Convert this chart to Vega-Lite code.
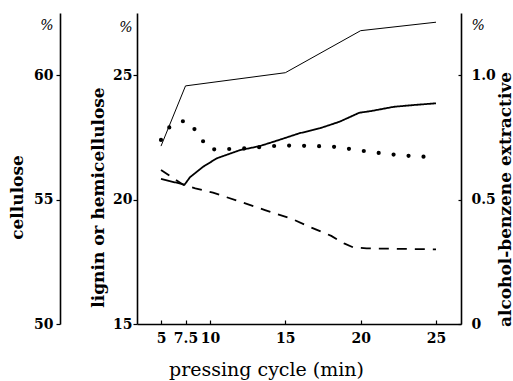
{
  "$schema": "https://vega.github.io/schema/vega-lite/v6.json",
  "width": 324,
  "height": 311,
  "autosize": {"type": "none"},
  "padding": {"left": 137, "top": 13, "right": 52, "bottom": 57},
  "background": "white",
  "config": {
    "view": {"stroke": null},
    "axis": {
      "grid": false,
      "domainColor": "black",
      "domainWidth": 1.6,
      "tickColor": "black",
      "tickWidth": 1.2,
      "labelColor": "black",
      "titleColor": "black",
      "labelFont": "DejaVu Serif",
      "titleFont": "DejaVu Serif",
      "labelFontWeight": "bold",
      "labelFontSize": 14,
      "titleFontWeight": "bold",
      "titleFontSize": 17,
      "labelOverlap": false,
      "labelFlush": false
    }
  },
  "datasets": {
    "cellulose": [
      {"t": 5, "v": 57.15},
      {"t": 7.5, "v": 59.57},
      {"t": 15, "v": 60.1},
      {"t": 20, "v": 61.79},
      {"t": 25, "v": 62.13}
    ],
    "lignin_hemi": [
      {"s": "wavy", "t": 5, "v": 20.83},
      {"s": "wavy", "t": 7.4, "v": 20.6},
      {"s": "wavy", "t": 7.96, "v": 20.9},
      {"s": "wavy", "t": 9.3, "v": 21.32},
      {"s": "wavy", "t": 10.45, "v": 21.66},
      {"s": "wavy", "t": 12, "v": 21.99},
      {"s": "wavy", "t": 13.3, "v": 22.15},
      {"s": "wavy", "t": 14.6, "v": 22.4},
      {"s": "wavy", "t": 15.9, "v": 22.66},
      {"s": "wavy", "t": 17.3, "v": 22.87},
      {"s": "wavy", "t": 18.6, "v": 23.13},
      {"s": "wavy", "t": 19.9, "v": 23.49},
      {"s": "wavy", "t": 20.7, "v": 23.56},
      {"s": "wavy", "t": 22.2, "v": 23.73},
      {"s": "wavy", "t": 23.5, "v": 23.8},
      {"s": "wavy", "t": 25, "v": 23.87},
      {"s": "dashed", "t": 5, "v": 21.19},
      {"s": "dashed", "t": 7.3, "v": 20.59},
      {"s": "dashed", "t": 8.5, "v": 20.45},
      {"s": "dashed", "t": 10.2, "v": 20.28},
      {"s": "dashed", "t": 13.65, "v": 19.58},
      {"s": "dashed", "t": 15.5, "v": 19.21},
      {"s": "dashed", "t": 16.6, "v": 18.91},
      {"s": "dashed", "t": 18.05, "v": 18.54},
      {"s": "dashed", "t": 18.9, "v": 18.24},
      {"s": "dashed", "t": 19.5, "v": 18.08},
      {"s": "dashed", "t": 20.4, "v": 18.04},
      {"s": "dashed", "t": 25, "v": 18.0}
    ],
    "extractive": [
      {"t": 5, "v": 0.74},
      {"t": 5.6, "v": 0.78},
      {"t": 6.5, "v": 0.804},
      {"t": 7.5, "v": 0.816},
      {"t": 8.4, "v": 0.784},
      {"t": 9.1, "v": 0.746},
      {"t": 10, "v": 0.702},
      {"t": 12, "v": 0.705},
      {"t": 15, "v": 0.717},
      {"t": 18, "v": 0.713},
      {"t": 20, "v": 0.697},
      {"t": 22, "v": 0.682},
      {"t": 25, "v": 0.67}
    ]
  },
  "encoding": {
    "x": {
      "field": "t",
      "type": "quantitative",
      "scale": {"domain": [2.55, 5, 10, 25, 26.67], "range": [0, 24, 73, 299, 324], "nice": false, "zero": false},
      "axis": {
        "values": [5, 7.5, 10, 15, 20, 25],
        "format": "~g",
        "tickSize": -4,
        "labelPadding": 11,
        "title": "pressing cycle (min)",
        "titleFontWeight": "normal",
        "titleFontSize": 19,
        "titleX": 129,
        "titleY": 51,
        "titleAlign": "center",
        "titleBaseline": "alphabetic"
      }
    }
  },
  "layer": [
    {
      "data": {"name": "cellulose"},
      "mark": {"type": "line", "color": "black", "strokeWidth": 1},
      "encoding": {
        "y": {
          "field": "v",
          "type": "quantitative",
          "scale": {"domain": [50, 62.5], "nice": false, "zero": false},
          "axis": {
            "orient": "left",
            "offset": 77,
            "values": [50, 55, 60, 62],
            "labelExpr": "datum.value == 62 ? '%' : datum.label",
            "labelFontWeight": {"condition": {"test": "datum.value == 62", "value": "normal"}, "value": "bold"},
            "labelFontStyle": {"condition": {"test": "datum.value == 62", "value": "italic"}, "value": "normal"},
            "tickOpacity": {"condition": {"test": "datum.value == 62", "value": 0}, "value": 1},
            "tickSize": 4,
            "labelPadding": 3,
            "title": "cellulose",
            "titleX": -43,
            "titleY": 184,
            "titleAngle": 270,
            "titleAlign": "center",
            "titleBaseline": "middle"
          }
        }
      }
    },
    {
      "data": {"name": "lignin_hemi"},
      "mark": {"type": "line", "color": "black", "strokeWidth": 1.8},
      "encoding": {
        "y": {
          "field": "v",
          "type": "quantitative",
          "scale": {"domain": [15, 27.5], "nice": false, "zero": false},
          "axis": {
            "orient": "left",
            "offset": 0,
            "values": [15, 20, 25, 26.9],
            "labelExpr": "datum.value == 26.9 ? '%' : datum.label",
            "labelFontWeight": {"condition": {"test": "datum.value == 26.9", "value": "normal"}, "value": "bold"},
            "labelFontStyle": {"condition": {"test": "datum.value == 26.9", "value": "italic"}, "value": "normal"},
            "tickOpacity": {"condition": {"test": "datum.value == 26.9", "value": 0}, "value": 1},
            "tickSize": 4,
            "labelPadding": 1,
            "title": "lignin or hemicellulose",
            "titleX": -39,
            "titleY": 184,
            "titleAngle": 270,
            "titleAlign": "center",
            "titleBaseline": "middle"
          }
        },
        "strokeDash": {
          "field": "s",
          "type": "nominal",
          "scale": {"domain": ["wavy", "dashed"], "range": [[1, 0], [10, 8]]},
          "legend": null
        }
      }
    },
    {
      "data": {"name": "extractive"},
      "mark": {"type": "line", "color": "black", "strokeWidth": 4.2, "strokeCap": "round", "strokeDash": [0, 15], "interpolate": "monotone"},
      "encoding": {
        "y": {
          "field": "v",
          "type": "quantitative",
          "scale": {"domain": [0, 1.25], "nice": false, "zero": false},
          "axis": {
            "orient": "right",
            "offset": 0,
            "values": [0, 0.5, 1.0, 1.2],
            "labelExpr": "datum.value == 1.2 ? '%' : (datum.value == 0 ? '0' : format(datum.value, '.1f'))",
            "labelFontWeight": {"condition": {"test": "datum.value == 1.2", "value": "normal"}, "value": "bold"},
            "labelFontStyle": {"condition": {"test": "datum.value == 1.2", "value": "italic"}, "value": "normal"},
            "tickOpacity": {"condition": {"test": "datum.value == 1.2", "value": 0}, "value": 1},
            "tickSize": -3,
            "labelPadding": 13,
            "title": "alcohol-benzene extractive",
            "titleX": 44,
            "titleY": 186,
            "titleAngle": 270,
            "titleAlign": "center",
            "titleBaseline": "middle"
          }
        }
      }
    }
  ],
  "resolve": {"scale": {"y": "independent"}, "axis": {"y": "independent"}}
}
